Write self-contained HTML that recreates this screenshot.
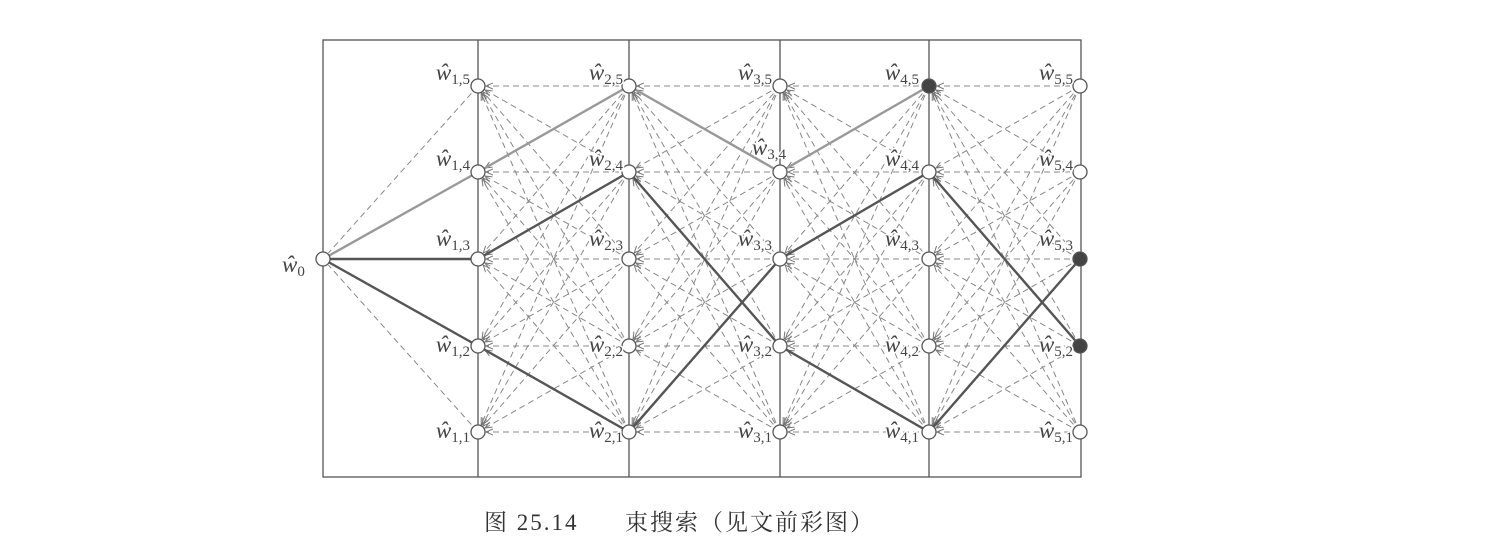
<!DOCTYPE html>
<html><head><meta charset="utf-8"><style>
html,body{margin:0;padding:0;background:#fff}
svg{display:block}
.l{font-family:"Liberation Serif",serif;font-style:italic;font-size:23px;fill:#444;stroke:#fff;stroke-width:3px;paint-order:stroke}
.s{font-style:normal;font-size:15px}
.c{font-family:"Liberation Serif","Noto Serif CJK SC",serif;font-size:23px;fill:#333;letter-spacing:2px}
</style></head><body>
<svg id="g" width="1486" height="560" viewBox="0 0 1486 560" xmlns="http://www.w3.org/2000/svg">
<defs><marker id="a" markerWidth="8" markerHeight="8" refX="7" refY="4" orient="auto" markerUnits="userSpaceOnUse"><path d="M0,1 L7,4 L0,7" fill="none" stroke="#777" stroke-width="1"/></marker></defs>
<rect x="323" y="40" width="758" height="437" fill="none" stroke="#555" stroke-width="1.3"/>
<g stroke="#555" stroke-width="1.3"><line x1="478" y1="40" x2="478" y2="477"/><line x1="629" y1="40" x2="629" y2="477"/><line x1="780" y1="40" x2="780" y2="477"/><line x1="929" y1="40" x2="929" y2="477"/></g>
<g id="d" stroke="#888" stroke-width="1" stroke-dasharray="6,4" fill="none"></g>
<g id="sol" fill="none" stroke-width="2.4">
<polyline stroke="#999" points="323,259 478,172 629,86 780,172 929,86"/>
<polyline stroke="#555" points="323,259 478,259 629,172 780,346"/>
<polyline stroke="#555" points="323,259 478,346 629,432 780,259 929,172 1080,346"/>
<polyline stroke="#555" points="780,346 929,432 1080,259"/>
</g>
<g id="n" fill="#fff" stroke="#555" stroke-width="1.3"></g>
<text class="l" x="282" y="272">ŵ<tspan class="s" dy="4">0</tspan></text>
<g class="l" text-anchor="end">
<text x="470" y="80">ŵ<tspan class="s" dy="4">1,5</tspan></text>
<text x="470" y="166">ŵ<tspan class="s" dy="4">1,4</tspan></text>
<text x="470" y="246">ŵ<tspan class="s" dy="4">1,3</tspan></text>
<text x="470" y="352">ŵ<tspan class="s" dy="4">1,2</tspan></text>
<text x="470" y="438">ŵ<tspan class="s" dy="4">1,1</tspan></text>
<text x="623" y="80">ŵ<tspan class="s" dy="4">2,5</tspan></text>
<text x="623" y="166">ŵ<tspan class="s" dy="4">2,4</tspan></text>
<text x="623" y="246">ŵ<tspan class="s" dy="4">2,3</tspan></text>
<text x="623" y="352">ŵ<tspan class="s" dy="4">2,2</tspan></text>
<text x="623" y="438">ŵ<tspan class="s" dy="4">2,1</tspan></text>
<text x="772" y="80">ŵ<tspan class="s" dy="4">3,5</tspan></text>
<text x="786" y="155">ŵ<tspan class="s" dy="4">3,4</tspan></text>
<text x="772" y="246">ŵ<tspan class="s" dy="4">3,3</tspan></text>
<text x="772" y="352">ŵ<tspan class="s" dy="4">3,2</tspan></text>
<text x="772" y="438">ŵ<tspan class="s" dy="4">3,1</tspan></text>
<text x="919" y="80">ŵ<tspan class="s" dy="4">4,5</tspan></text>
<text x="919" y="166">ŵ<tspan class="s" dy="4">4,4</tspan></text>
<text x="919" y="246">ŵ<tspan class="s" dy="4">4,3</tspan></text>
<text x="919" y="352">ŵ<tspan class="s" dy="4">4,2</tspan></text>
<text x="919" y="438">ŵ<tspan class="s" dy="4">4,1</tspan></text>
<text x="1073" y="80">ŵ<tspan class="s" dy="4">5,5</tspan></text>
<text x="1073" y="166">ŵ<tspan class="s" dy="4">5,4</tspan></text>
<text x="1073" y="246">ŵ<tspan class="s" dy="4">5,3</tspan></text>
<text x="1073" y="352">ŵ<tspan class="s" dy="4">5,2</tspan></text>
<text x="1073" y="438">ŵ<tspan class="s" dy="4">5,1</tspan></text>
</g>
<text class="c" x="484" y="530">图 25.14<tspan x="625">束搜索（见文前彩图）</tspan></text>
</svg>
<script>
var X=[323,478,629,780,929,1080],Y=[432,346,259,172,86],NS="http://www.w3.org/2000/svg";
var d=document.getElementById('d'),n=document.getElementById('n');
function ln(x1,y1,x2,y2,arr){var e=document.createElementNS(NS,'line');
 var dx=x2-x1,dy=y2-y1,L=Math.sqrt(dx*dx+dy*dy),k=8/L;
 e.setAttribute('x1',x1);e.setAttribute('y1',y1);e.setAttribute('x2',x2-dx*k);e.setAttribute('y2',y2-dy*k);
 if(arr)e.setAttribute('marker-end','url(#a)');d.appendChild(e);}
for(var j=0;j<5;j++)ln(X[1],Y[j],X[0],259,false);
for(var c=1;c<5;c++)for(var i=0;i<5;i++)for(var j=0;j<5;j++)ln(X[c+1],Y[j],X[c],Y[i],true);
function nd(x,y,f){var e=document.createElementNS(NS,'circle');e.setAttribute('cx',x);e.setAttribute('cy',y);e.setAttribute('r',7);if(f)e.setAttribute('fill','#444');n.appendChild(e);}
nd(323,259);
for(var c=1;c<6;c++)for(var i=0;i<5;i++){var f=(c==4&&i==4)||(c==5&&(i==1||i==2));nd(X[c],Y[i],f);}
</script>
</body></html>
